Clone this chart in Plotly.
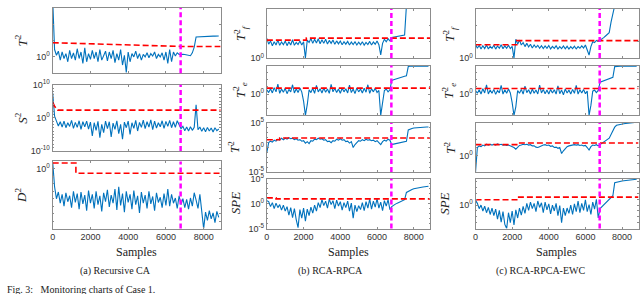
import plotly.graph_objects as go

# ---------------- data (log10 of the monitored statistics) ----------------
samples = list(range(0, 8900, 100))
fault_sample = 6780
x_range = [0, 8900]
x_tick_values = [0, 2000, 4000, 6000, 8000]
x_tick_labels = ["0", "2000", "4000", "6000", "8000"]

# (a) Recursive CA
a_t2_log = [3.5, 0.45, 0.1, 0.35, -0.2, 0.3, -0.1, 0.2, -0.3, 0.4,
            -0.1, 0.25, -0.2, 0.5, -0.1, 0.3, -0.4, 0.55, -0.3, 0.2,
            -0.15, 0.4, -0.1, 0.3, -0.3, 0.45, -0.2, 0.1, 0.35, -0.25,
            0.3, -0.1, 0.4, -0.35, 0.2, -0.2, 0.45, -0.5, 0.1, -0.95,
            0.3, -0.3, 0.2, 0.0, 0.35, -0.1, 0.2, -0.2, 0.15, 0.0,
            0.25, -0.05, 0.2, 0.05, 0.3, -0.1, 0.15, 0.0, 0.25, -0.2,
            0.3, -0.4, 0.45, -0.3, 0.3, 0.05, 0.25, 0.15, 0.17, 0.16,
            0.15, 0.12, 0.08, 0.07, 0.25, 0.6, 1.22, 1.23, 1.23, 1.24,
            1.24, 1.25, 1.25, 1.26, 1.26, 1.27, 1.27, 1.28, 1.28]
a_s2_log = [7.5, 0.5, -1.0, -2.5, -1.2, -2.8, -1.0, -3.0, -1.5, -2.6,
            -0.8, -3.2, -1.4, -2.9, -0.9, -3.5, -1.2, -2.7, -1.0, -3.4,
            -1.3, -5.5, -1.5, -3.8, -1.1, -6.0, -2.0, -4.5, -1.0, -3.3,
            -1.2, -5.8, -1.6, -3.5, -0.9, -4.8, -2.0, -6.5, -1.3, -3.0,
            -1.0, -5.0, -1.5, -3.2, -0.8, -4.0, -1.4, -2.9, -0.7, -3.3,
            -1.2, -2.8, -0.6, -3.6, -1.0, -3.1, -1.5, -2.7, -0.9, -3.2,
            -1.1, -2.6, -0.8, -3.0, -1.2, -2.9, -0.9, -2.4, -3.3, -2.6,
            -3.9, -2.8, -4.0, -2.7, -3.8, -2.9, 3.9, -3.6, -2.8, -4.1,
            -3.0, -4.2, -2.9, -4.0, -3.1, -4.3, -3.0, -3.9, -3.4]
a_d2_log = [0.9, -2.4, -4.0, -3.1, -4.6, -3.4, -5.0, -3.2, -4.4, -3.6,
            -5.2, -3.0, -4.5, -3.3, -5.4, -3.1, -4.7, -3.5, -5.6, -2.9,
            -4.6, -3.4, -5.3, -3.0, -4.8, -3.6, -5.7, -3.2, -4.4, -2.8,
            -5.1, -3.5, -4.6, -2.7, -5.5, -2.4, -4.9, -3.3, -5.8, -3.0,
            -4.5, -3.4, -5.4, -2.9, -4.8, -3.6, -5.9, -3.1, -4.6, -3.5,
            -5.3, -3.0, -4.7, -3.7, -5.6, -3.2, -4.5, -3.8, -5.2, -3.3,
            -4.9, -2.7, -5.0, -3.4, -4.6, -3.9, -5.3, -3.6, -4.8, -4.0,
            -5.2, -4.1, -5.4, -3.9, -5.0, -3.2, -4.2, -5.3, -3.4, -6.2,
            -8.0, -5.8, -6.9, -5.6, -6.7, -5.9, -7.2, -5.7, -6.5]

# (b) RCA-RPCA
b_tf2_log = [1.2, 0.85, 1.05, 0.75, 1.0, 0.8, 1.1, 0.78, 0.98, 0.82,
             1.05, 0.76, 1.0, 0.8, 1.12, 0.78, 0.96, 0.83, 1.04, 0.8,
             1.0, 0.0, 1.1, 0.95, 1.2, 0.9, 1.15, 0.92, 1.18, 0.88,
             1.12, 0.9, 1.15, 0.86, 1.08, 0.9, 1.1, 0.84, 1.05, 0.87,
             1.04, 0.82, 1.0, 0.85, 1.02, 0.8, 0.98, 0.83, 1.0, 0.8,
             0.97, 0.82, 1.0, 0.79, 0.96, 0.83, 1.02, 0.8, 0.98, 0.85,
             1.05, 0.82, 0.2, 0.9, 1.15, 1.0, 1.18, 1.05, 1.26, 1.28,
             1.3, 1.32, 1.34, 1.36, 1.38, 1.4, 3.2, 3.2, 3.2, 3.2,
             3.2, 3.2, 3.2, 3.2, 3.2, 3.2, 3.2, 3.2, 3.2]
b_te2_log = [0.6, 0.2, 0.75, 0.15, 0.9, 0.3, 1.4, 0.1, 0.7, 0.25,
             0.8, 0.05, 0.65, 0.3, 1.3, 0.15, 0.75, 0.2, 0.85, 0.3,
             -1.0, -3.0, -1.5, 0.6, 0.2, 0.8, 0.1, 1.2, 0.3, 0.75,
             0.15, 0.85, 0.25, 0.7, 0.1, 1.35, 0.3, 0.8, 0.2, 0.7,
             0.1, 0.8, 0.3, 0.75, 0.15, 1.25, 0.2, 0.7, 0.05, 0.85,
             0.3, 0.7, 0.15, 0.8, 0.25, 1.3, 0.1, 0.75, 0.3, 0.8,
             0.2, 0.5, -3.0, -1.5, 0.5, 0.7, 0.3, 0.6, 1.9, 2.0,
             2.1, 2.2, 2.3, 2.4, 2.45, 2.5, 2.56, 3.85, 3.9, 3.9,
             3.9, 3.9, 3.9, 3.9, 3.9, 3.9, 3.9, 3.9, 3.9]
b_t2_log = [-1.0, 1.0, 1.3, 1.1, 1.5, 1.3, 1.7, 1.5, 1.9, 1.6,
            1.9, 1.7, 2.0, 1.8, 1.9, 1.6, 1.8, 1.5, 1.6, 1.3,
            1.4, 0.9, 1.2, 0.8, 1.4, 1.3, 1.7, 1.6, 1.9, 1.7,
            1.8, 1.5, 1.6, 1.2, 1.3, 1.0, 1.4, 1.3, 1.7, 1.5,
            1.8, 1.5, 1.6, 1.2, 1.3, 0.9, 1.2, 0.0, 0.6, 1.0,
            1.4, 1.3, 1.6, 1.4, 1.7, 1.5, 1.6, 1.4, 1.5, 1.2,
            1.4, 1.0, 0.6, 1.2, 1.5, 1.3, 1.7, 1.5, 0.6, 0.7,
            0.8, 0.9, 1.0, 1.05, 1.1, 1.2, 1.27, 3.6, 3.8, 3.9,
            4.0, 4.05, 4.1, 4.1, 4.15, 4.15, 4.2, 4.2, 4.2]
b_spe_log = [0.6, 0.4, -0.6, 0.2, -1.0, 0.1, -0.8, -0.2, -1.3, -0.3,
             -1.5, -0.6, -2.3, -0.8, -2.8, -1.0, -3.2, -4.8, -1.2, -2.9,
             -0.9, -3.5, -1.1, -2.4, -0.7, -1.9, -0.3, -1.5, 0.2, -0.8,
             0.8, -0.4, 0.5, -0.9, 0.9, -0.2, 0.6, -1.0, 0.7, -0.5,
             0.4, -1.3, 0.2, -0.8, 0.5, -1.5, 0.1, -2.9, -0.3, -1.6,
             -0.4, -1.2, 0.2, -1.4, 0.4, -0.9, 0.9, -1.1, 0.5, -0.7,
             1.0, -0.9, 0.3, -1.4, 0.6, -0.5, 0.8, -1.2, -0.6, -0.3,
             -0.1, 0.1, 0.3, 0.5, 0.63, 0.8, 2.25, 2.5, 2.7, 2.85,
             3.0, 3.1, 3.2, 3.25, 3.3, 3.35, 3.4, 3.45, 3.5]

# (c) RCA-RPCA-EWC
c_tf2_log = [0.85, 0.6, 0.78, 0.55, 0.75, 0.58, 0.8, 0.56, 0.72, 0.6,
             0.78, 0.55, 0.74, 0.6, 0.82, 0.57, 0.75, 0.6, 0.79, 0.58,
             0.72, 0.0, 1.15, 0.85, 1.1, 0.8, 0.95, 0.7, 0.9, 0.68,
             0.85, 0.62, 0.8, 0.65, 0.78, 0.6, 0.76, 0.58, 0.74, 0.6,
             0.77, 0.56, 0.72, 0.6, 0.75, 0.55, 0.7, 0.58, 0.74, 0.57,
             0.72, 0.55, 0.7, 0.58, 0.73, 0.56, 0.7, 0.6, 0.75, 0.62,
             0.8, 0.5, 0.19, 0.7, 1.0, 0.95, 1.08, 1.02, 1.08, 1.15,
             1.25, 1.35, 1.45, 1.55, 2.2, 2.9, 3.2, 3.2, 3.2, 3.2,
             3.2, 3.2, 3.2, 3.2, 3.2, 3.2, 3.2, 3.2, 3.2]
c_te2_log = [0.5, 0.1, 0.6, 0.0, 0.75, 0.15, 1.3, 0.0, 0.55, 0.1,
             0.65, -0.05, 0.5, 0.15, 1.2, 0.0, 0.6, 0.1, 0.7, 0.15,
             -1.2, -3.0, -1.8, 0.5, 0.1, 0.65, 0.0, 1.1, 0.2, 0.6,
             0.0, 0.7, 0.1, 0.55, 0.0, 1.25, 0.15, 0.65, 0.05, 0.55,
             0.0, 0.65, 0.15, 0.6, 0.0, 1.15, 0.05, 0.55, -0.1, 0.7,
             0.15, 0.55, 0.0, 0.65, 0.1, 1.2, 0.0, 0.6, 0.15, 0.65,
             0.05, 0.4, -3.0, -1.6, 0.4, 0.55, 0.2, 0.5, 1.67, 1.75,
             1.85, 1.95, 2.05, 2.15, 2.25, 2.34, 3.85, 3.9, 3.9, 3.9,
             3.9, 3.9, 3.9, 3.9, 3.9, 3.9, 3.9, 3.9, 3.9]
c_t2_log = [-2.0, 1.0, 1.2, 1.1, 1.3, 1.2, 1.4, 1.3, 1.4, 1.3,
            1.4, 1.3, 1.45, 1.35, 1.4, 1.3, 1.35, 1.25, 1.3, 1.2,
            1.2, 1.0, 0.8, 1.1, 1.25, 1.3, 1.4, 1.35, 1.4, 1.3,
            1.35, 1.2, 1.2, 1.05, 1.0, 1.1, 1.25, 1.3, 1.35, 1.25,
            1.3, 1.15, 1.2, 1.0, 1.05, 0.9, 1.0, 0.27, 0.6, 0.9,
            1.1, 1.2, 1.25, 1.3, 1.35, 1.3, 1.35, 1.25, 1.3, 1.2,
            1.25, 1.0, 0.7, 1.1, 1.3, 1.25, 1.35, 1.2, 1.37, 1.5,
            1.65, 1.8, 1.95, 2.15, 2.6, 3.1, 3.5, 3.73, 3.8, 3.85,
            3.9, 3.92, 3.95, 3.97, 4.0, 4.02, 4.05, 4.08, 4.1]
c_spe_log = [0.8, 0.3, -0.6, 0.0, -1.0, -0.2, -1.3, -0.4, -1.6, -0.5,
             -1.8, -0.7, -2.4, -0.9, -2.9, -1.1, -3.3, -4.0, -1.3, -3.0,
             -1.0, -3.4, -0.8, -2.2, -0.5, -1.7, -0.2, -1.4, 0.3, -0.9,
             0.5, -0.6, 0.3, -1.1, 0.7, -0.4, 0.4, -1.3, 0.5, -0.8,
             0.2, -1.5, 0.0, -1.0, 0.3, -1.8, -0.1, -3.0, -0.5, -1.8,
             -0.5, -1.4, 0.0, -1.6, 0.2, -1.1, 0.7, -1.3, 0.3, -0.9,
             0.9, -1.1, 0.1, -1.6, 0.5, -0.7, 1.0, -2.2, -0.6, -0.3,
             0.0, 0.3, 0.6, 0.9, 1.2, 1.6, 3.8, 3.9, 4.0, 4.05,
             4.1, 4.15, 4.2, 4.2, 4.25, 4.3, 4.3, 4.35, 4.4]

# control limits (sample breakpoints, log10 value)
a_t2_lim_x, a_t2_lim_log = [0, 6780, 8900], [0.87, 0.64, 0.64]
a_s2_lim_x, a_s2_lim_log = [0, 100, 260, 8900], [4.6, 3.5, 2.3, 2.3]
a_d2_lim_x, a_d2_lim_log = [0, 1230, 1230, 8900], [0.78, 0.78, -0.58, -0.58]
b_tf2_lim_x, b_tf2_lim_log = [0, 2150, 2150, 8900], [1.1, 1.1, 1.22, 1.22]
b_te2_lim_x, b_te2_lim_log = [0, 8900], [0.82, 0.82]
b_t2_lim_x, b_t2_lim_log = [0, 700, 700, 8900], [1.6, 1.6, 1.95, 1.95]
b_spe_lim_x, b_spe_lim_log = [0, 500, 500, 8900], [1.15, 1.15, 0.95, 0.95]
c_tf2_lim_x, c_tf2_lim_log = [0, 2250, 2250, 8900], [0.82, 0.82, 1.07, 1.07]
c_te2_lim_x, c_te2_lim_log = [0, 8900], [0.77, 0.77]
c_t2_lim_x, c_t2_lim_log = [0, 2250, 2250, 8900], [1.35, 1.35, 1.55, 1.55]
c_spe_lim_x, c_spe_lim_log = [0, 2300, 2300, 8900], [0.9, 0.9, 1.35, 1.35]

# ---------------- panel configuration ----------------
W, H = 640, 294
A_COL = (50, 219)
B_COL = (265.5, 430)
C_COL = (475.5, 639.5)
A_ROWS = [(1, 69), (81, 150), (161, 231)]
BC_ROWS = [(2, 53.3), (61, 113), (121, 172), (179, 231)]

TF2 = "<i>T</i><sup>2</sup><sub><i>f</i></sub>"
TE2 = "<i>T</i><sup>2</sup><sub><i>e</i></sub>"
T2 = "<i>T</i><sup>2</sup>"

panels = [
    dict(col=A_COL, row=A_ROWS[0], data=a_t2_log, lx=a_t2_lim_x, ly=a_t2_lim_log, yr=[-1, 3], lab=[0], name=T2, lblx=18, bottom=False),
    dict(col=A_COL, row=A_ROWS[1], data=a_s2_log, lx=a_s2_lim_x, ly=a_s2_lim_log, yr=[-10, 10], lab=[-10, 0, 10], name="<i>S</i><sup>2</sup>", lblx=18, bottom=False),
    dict(col=A_COL, row=A_ROWS[2], data=a_d2_log, lx=a_d2_lim_x, ly=a_d2_lim_log, yr=[-8, 1], lab=[0], name="<i>D</i><sup>2</sup>", lblx=18, bottom=True),
    dict(col=B_COL, row=BC_ROWS[0], data=b_tf2_log, lx=b_tf2_lim_x, ly=b_tf2_lim_log, yr=[0, 3], lab=[0], name=TF2, lblx=239, bottom=False),
    dict(col=B_COL, row=BC_ROWS[1], data=b_te2_log, lx=b_te2_lim_x, ly=b_te2_lim_log, yr=[-3, 4], lab=[0], name=TE2, lblx=239, bottom=False),
    dict(col=B_COL, row=BC_ROWS[2], data=b_t2_log, lx=b_t2_lim_x, ly=b_t2_lim_log, yr=[-5, 5], lab=[-5, 0, 5], name=T2, lblx=232, bottom=False),
    dict(col=B_COL, row=BC_ROWS[3], data=b_spe_log, lx=b_spe_lim_x, ly=b_spe_lim_log, yr=[-5, 5], lab=[-5, 0, 5], name="<i>SPE</i>", lblx=234, bottom=True),
    dict(col=C_COL, row=BC_ROWS[0], data=c_tf2_log, lx=c_tf2_lim_x, ly=c_tf2_lim_log, yr=[0, 3], lab=[0], name=TF2, lblx=449, bottom=False),
    dict(col=C_COL, row=BC_ROWS[1], data=c_te2_log, lx=c_te2_lim_x, ly=c_te2_lim_log, yr=[-3, 4], lab=[0], name=TE2, lblx=449, bottom=False),
    dict(col=C_COL, row=BC_ROWS[2], data=c_t2_log, lx=c_t2_lim_x, ly=c_t2_lim_log, yr=[-2, 4], lab=[0], name=T2, lblx=449, bottom=False),
    dict(col=C_COL, row=BC_ROWS[3], data=c_spe_log, lx=c_spe_lim_x, ly=c_spe_lim_log, yr=[-4, 4.5], lab=[0], name="<i>SPE</i>", lblx=444, bottom=True),
]

BLUE = "#0072BD"
AX = "#8c8c8c"
TICKFONT = dict(family="Liberation Sans, Arial, sans-serif", size=9, color="#333333")
SERIF = "Liberation Serif, Times New Roman, serif"

fig = go.Figure()
layout = dict(width=W, height=H, margin=dict(l=0, r=0, t=0, b=0),
              paper_bgcolor="white", plot_bgcolor="white", showlegend=False)
shapes, annotations = [], []

for i, p in enumerate(panels):
    sfx = "" if i == 0 else str(i + 1)
    xa, ya = "x" + sfx, "y" + sfx
    l, r = p["col"]
    t, b = p["row"]
    fig.add_trace(go.Scatter(x=samples, y=[10 ** v for v in p["data"]], mode="lines",
                             line=dict(color=BLUE, width=1.1), xaxis=xa, yaxis=ya,
                             hoverinfo="skip"))
    fig.add_trace(go.Scatter(x=p["lx"], y=[10 ** v for v in p["ly"]], mode="lines",
                             line=dict(color="#FF0000", width=1.6, dash="6px,3px"),
                             xaxis=xa, yaxis=ya, hoverinfo="skip"))
    lo, hi = p["yr"]
    decades = [k for k in range(int(lo) - 1, int(hi) + 2) if lo <= k <= hi]
    tv = [10.0 ** k for k in p["lab"]]
    tt = ["10<sup>%d</sup>" % k for k in p["lab"]]
    minor_tv = [10.0 ** k for k in decades if k not in p["lab"]]
    layout["xaxis" + sfx] = dict(domain=[l / W, r / W], range=x_range, anchor=ya,
                                  tickvals=x_tick_values, ticktext=x_tick_labels,
                                  showticklabels=p["bottom"], ticks="inside", ticklen=2,
                                  tickcolor=AX, showline=True, linecolor=AX, linewidth=1,
                                  mirror="ticks", showgrid=False, zeroline=False,
                                  tickfont=TICKFONT)
    layout["yaxis" + sfx] = dict(domain=[1 - b / H, 1 - t / H], type="log", range=[lo, hi],
                                  anchor=xa, tickvals=tv, ticktext=tt, ticks="inside",
                                  ticklen=2, tickcolor=AX, showline=True, linecolor=AX,
                                  linewidth=1, mirror="ticks", showgrid=False,
                                  zeroline=False, tickfont=TICKFONT,
                                  minor=dict(tickmode="array", tickvals=minor_tv,
                                             ticks="inside", ticklen=1.5, tickcolor=AX,
                                             showgrid=False))
    shapes.append(dict(type="line", xref=xa, yref=ya + " domain", x0=fault_sample,
                       x1=fault_sample, y0=0, y1=1,
                       line=dict(color="#FF00FF", width=2.5, dash="5px,3px")))
    annotations.append(dict(text=p["name"], xref="paper", yref="paper",
                            x=p["lblx"] / W, y=1 - (t + b) / 2 / H, textangle=-90,
                            showarrow=False, xanchor="center", yanchor="middle",
                            font=dict(family=SERIF, size=13, color="#222222")))

for cx, cap_x, cap in [(134, 113, "(a) Recursive CA"), (348, 330, "(b) RCA-RPCA"),
                       (557, 541, "(c) RCA-RPCA-EWC")]:
    annotations.append(dict(text="Samples", xref="paper", yref="paper", x=cx / W,
                            y=1 - 255 / H, showarrow=False, xanchor="center",
                            yanchor="middle", font=dict(family=SERIF, size=12, color="#222222")))
    annotations.append(dict(text=cap, xref="paper", yref="paper", x=cap_x / W,
                            y=1 - 275 / H, showarrow=False, xanchor="center",
                            yanchor="middle", font=dict(family=SERIF, size=10, color="#222222")))
annotations.append(dict(text="Fig. 3:   Monitoring charts of Case 1.", xref="paper", yref="paper",
                        x=2 / W, y=1 - 287 / H, showarrow=False, xanchor="left",
                        yanchor="top", font=dict(family=SERIF, size=10, color="#222222")))

layout["shapes"] = shapes
layout["annotations"] = annotations
fig.update_layout(**layout)
fig.write_html("out.html", config={"displayModeBar": False},
               post_script="document.body.style.margin='0px';")
